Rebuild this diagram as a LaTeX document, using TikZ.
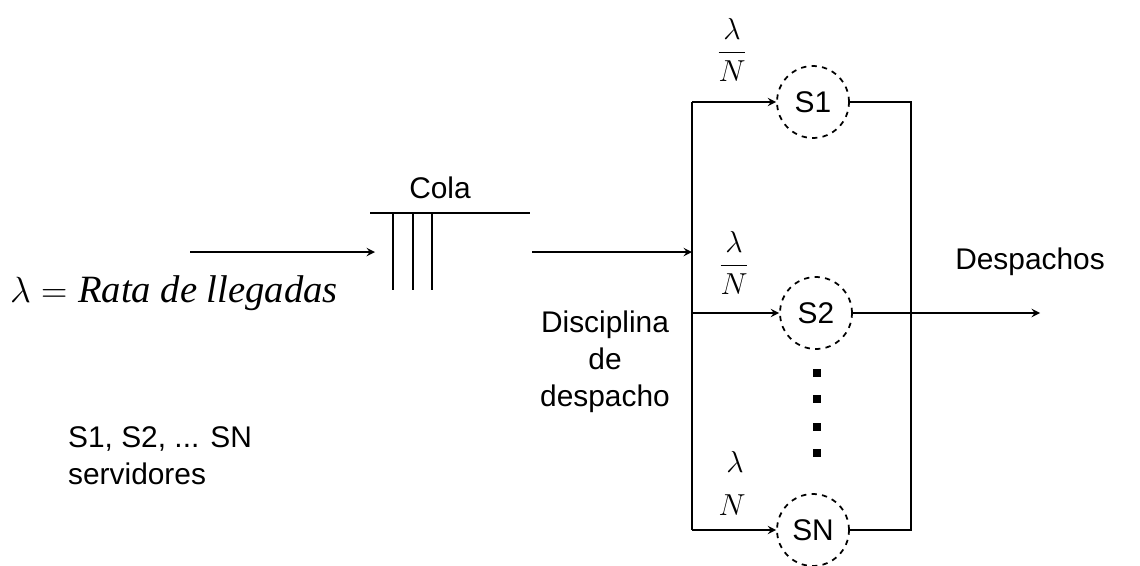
\documentclass[tikz,border=0pt]{standalone}
\usepackage{amsmath}
\usepackage{fontspec}
\setmainfont{Liberation Sans}
\newfontfamily\timesfont{Liberation Serif}
\usetikzlibrary{positioning}

\begin{document}
\begin{tikzpicture}[x=0.02cm, y=-0.02cm,
        server/.style={circle, draw, dashed, line width=1pt, minimum size=1.44cm, inner sep=0pt, font=\fontsize{17}{19}\selectfont},
        arrow/.style={-stealth, line width=1.1pt},
        wire/.style={line width=1.1pt},
        txt/.style={font=\fontsize{17}{21}\selectfont, align=center}
    ]
        \useasboundingbox (0,0) rectangle (1140,565);

        % entrada y cola
        \coordinate (in) at (190,252);
        \coordinate (qin) at (375,252);
        \coordinate (qtl) at (370,213);
        \coordinate (qtr) at (530,213);
        \coordinate (qout) at (532,252);
        \coordinate (split) at (692,252);
        \coordinate (top) at (692,102);
        \coordinate (mid) at (692,313);
        \coordinate (bot) at (692,530);
        \coordinate (jtop) at (911,102);
        \coordinate (jbot) at (911,530);
        \coordinate (out) at (1040,313);

        \node[server] (s1) at (813,102) {S1};
        \node[server] (s2) at (816,313) {S2};
        \node[server] (sn) at (813,530) {SN};

        \draw[arrow] (in) -- (qin);
        \draw[wire] (qtl) -- (qtr);
        \foreach \x in {393,413,432}
            \draw[wire] (\x,213) -- (\x,290);
        \draw[arrow] (qout) -- (split);

        \draw[wire] (top) -- (bot);
        \draw[arrow] (top) -- (s1);
        \draw[arrow] (mid) -- (s2);
        \draw[arrow] (bot) -- (sn);
        \draw[wire] (s1) -- (jtop) -- (jbot) -- (sn);
        \draw[arrow] (s2) -- (out);

        % puntos
        \foreach \y in {373,399,427,453}
            \fill (817,\y) ++(-4,-4) rectangle ++(8,8);

        % textos
        \node[txt] (cola) at (440,188) {Cola};
        \node[txt] (desp) at (1030,262) {Despachos};
        \node[txt] (disc) at (605,362) {Disciplina\\de\\despacho};
        \node[txt, align=left, anchor=west] (serv) at (62,456) {S1, S2, ... SN\\servidores};
        \node[font=\fontsize{22}{24}\selectfont, anchor=west] (rate) at (4,293)
            {$\lambda =$ {\timesfont\itshape Rata de llegadas}};
        \node[txt] (f1) at (732,50) {$\dfrac{\lambda}{N}$};
        \node[txt] (f2) at (734,263) {$\dfrac{\lambda}{N}$};
        \node[txt] (l3) at (735,462) {$\lambda$};
        \node[txt] (n3) at (732,505) {$N$};
    \end{tikzpicture}
\end{document}
